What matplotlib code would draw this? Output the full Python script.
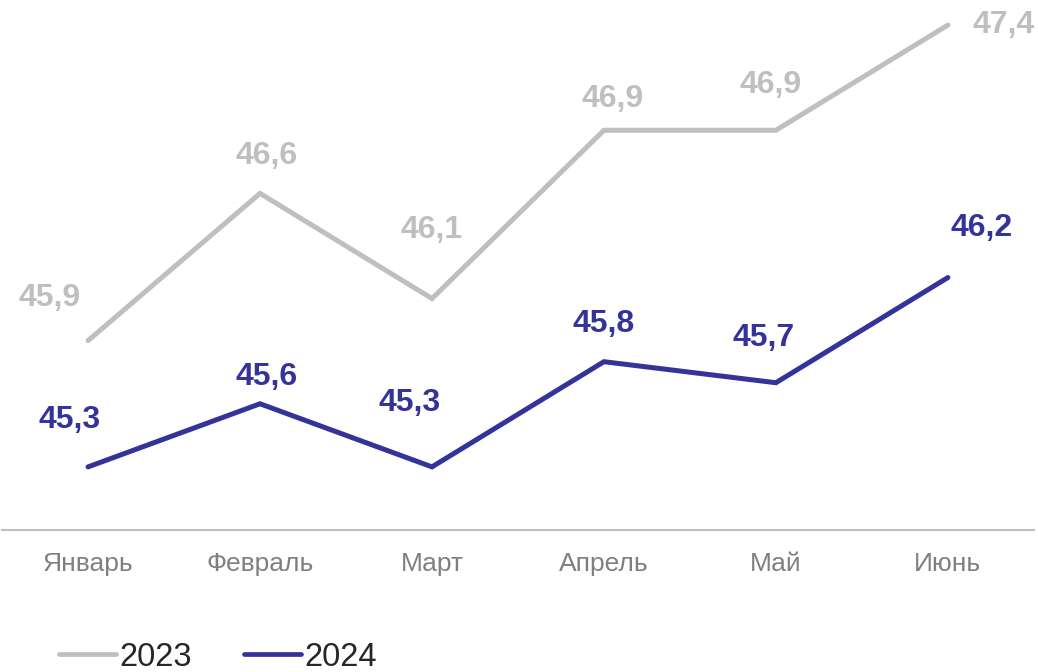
import matplotlib.pyplot as plt
import numpy as np

plt.rcParams['font.family'] = ['Liberation Sans', 'DejaVu Sans']

# данные
months = ['Январь', 'Февраль', 'Март', 'Апрель', 'Май', 'Июнь']
y2023 = [45.9, 46.6, 46.1, 46.9, 46.9, 47.4]
y2024 = [45.3, 45.6, 45.3, 45.8, 45.7, 46.2]

# сдвиги подписей (пиксели)
off2023 = [(-38, 43), (7, 37), (0, 69), (9, 31), (-5, 45), (56, 0)]
off2024 = [(-18, 47), (7, 27), (-22, 64), (0, 38), (-12, 45), (34, 50)]

c2023 = '#BFBFBF'
c2024 = '#33339A'

fig = plt.figure(figsize=(10.38, 6.72), dpi=100)
ax = fig.add_axes([0.002, 0.2113, 0.994, 0.7827])

x = np.arange(len(months))
ax.plot(x, y2023, color=c2023, lw=3.6, solid_capstyle='round', solid_joinstyle='miter', label='2023')
ax.plot(x, y2024, color=c2024, lw=3.6, solid_capstyle='round', solid_joinstyle='miter', label='2024')

for i in range(len(months)):
    ax.annotate(f'{y2023[i]:.1f}'.replace('.', ','), (x[i], y2023[i]), xytext=off2023[i],
                textcoords='offset pixels', ha='center', va='center',
                fontsize=23, fontweight='bold', color=c2023)
    ax.annotate(f'{y2024[i]:.1f}'.replace('.', ','), (x[i], y2024[i]), xytext=off2024[i],
                textcoords='offset pixels', ha='center', va='center',
                fontsize=23, fontweight='bold', color=c2024)

ax.set_xlim(-0.5, 5.5)
ax.set_ylim(45.0, 47.5)
ax.set_xticks(x)
ax.set_xticklabels(months, fontsize=19, color='#808080')
ax.tick_params(axis='x', length=0, pad=16)
ax.set_yticks([])
for s in ['top', 'right', 'left']:
    ax.spines[s].set_visible(False)
ax.spines['bottom'].set_color('#BFBFBF')
ax.spines['bottom'].set_linewidth(1.5)

leg = fig.legend(loc='center left', bbox_to_anchor=(0.057, 0.022), ncol=2, frameon=False,
                 fontsize=23.5, handlelength=1.75, handletextpad=0.1, columnspacing=1.6,
                 borderaxespad=0, borderpad=0)
for t in leg.get_texts():
    t.set_color('#262626')
for h in leg.legend_handles:
    h.set_linewidth(3.4)
    h.set_solid_capstyle('round')

fig.savefig('out.png', dpi=100)
